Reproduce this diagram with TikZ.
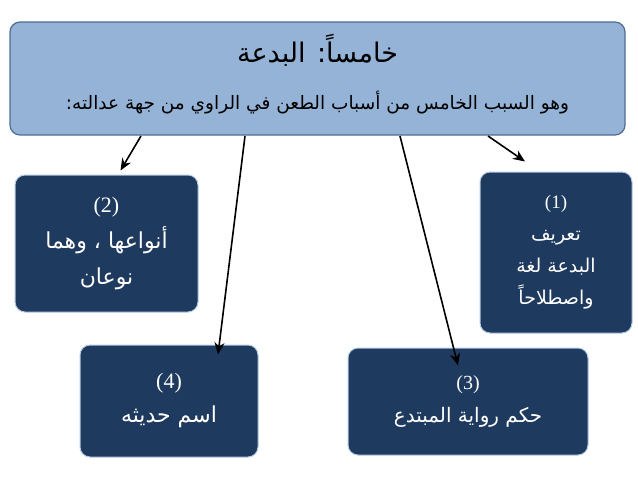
\documentclass[tikz,border=0pt]{standalone}
\usepackage{fontspec}
\usetikzlibrary{positioning, arrows.meta}
\newfontfamily\arabicfont[Script=Arabic]{DejaVu Sans}
\setmainfont{Liberation Serif}
\TeXXeTstate=1
\definecolor{headblue}{HTML}{95B3D7}
\definecolor{navy}{HTML}{1F3A5F}
\definecolor{rimblue}{HTML}{4F6C92}
\tikzset{
  topbox/.style={draw=rimblue, line width=1.2pt, fill=headblue, rounded corners=10pt},
  itembox/.style={draw=headblue!70, line width=1pt, fill=navy, rounded corners=10pt,
    text=white, align=center, inner sep=2pt},
  link/.style={-{Stealth[length=12pt,width=10pt]}, line width=1.6pt, black}
}
\begin{document}
\begin{tikzpicture}[x=1pt, y=-1pt]
  \useasboundingbox (0,0) rectangle (638,479);
  % header
  \node[topbox, minimum width=615pt, minimum height=113pt] (top) at (317.5,78.5) {};
  \node[font=\fontsize{27}{30}\selectfont\arabicfont] (title) at (317.5,50) {\beginR خامساً: البدعة\endR};
  \node[font=\fontsize{18.5}{20}\selectfont\arabicfont] (sub) at (317.5,103) {\beginR وهو السبب الخامس من أسباب الطعن في الراوي من جهة عدالته:\endR};

  % items
  \node[itembox, minimum width=152pt, minimum height=161pt, font=\fontsize{19}{32}\selectfont\arabicfont] (one) at (556,252.5)
    {\rmfamily (1)\\ \beginR تعريف\endR\\ \beginR البدعة لغة\endR\\ \beginR واصطلاحاً\endR};
  \node[itembox, minimum width=183pt, minimum height=137pt, font=\fontsize{22}{36}\selectfont\arabicfont] (two) at (106.5,243.5)
    {\rmfamily (2)\\ \beginR أنواعها ، وهما\endR\\ \beginR نوعان\endR};
  \node[itembox, minimum width=240pt, minimum height=107pt, font=\fontsize{20}{34}\selectfont\arabicfont] (three) at (468,401.5)
    {\rmfamily (3)\\ \beginR حكم رواية المبتدع\endR};
  \node[itembox, minimum width=178pt, minimum height=112pt, font=\fontsize{22}{34}\selectfont\arabicfont] (four) at (169,401)
    {\rmfamily (4)\\ \beginR اسم حديثه\endR};

  % connectors
  \coordinate (s1) at (488,136);
  \coordinate (s2) at (141,136);
  \coordinate (s3) at (400,136);
  \coordinate (s4) at (245,136);
  \draw[link] (s1) -- ([xshift=-31pt,yshift=10pt]one.north);
  \draw[link] (s2) -- ([xshift=14pt,yshift=4pt]two.north);
  \draw[link] (s3) -- ([xshift=-10pt,yshift=-18pt]three.north);
  \draw[link] (s4) -- ([xshift=49pt,yshift=-10pt]four.north);
\end{tikzpicture}
\end{document}
